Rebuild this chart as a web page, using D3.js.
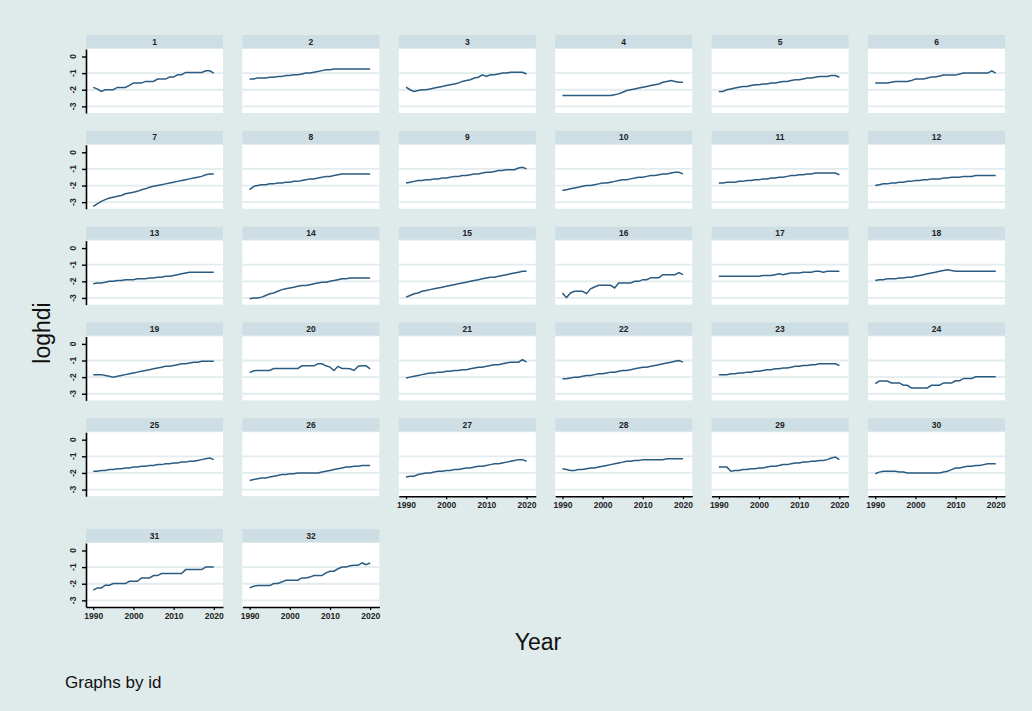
<!DOCTYPE html>
<html><head><meta charset="utf-8">
<script src="https://cdn.jsdelivr.net/npm/d3@7/dist/d3.min.js"></script>
<style>
  body { margin: 0; background: #ffffff; }
  svg { display: block; font-family: "Liberation Sans", Arial, Helvetica, sans-serif; }
</style>
</head>
<body>
<svg id="chart"></svg>
<script>
// years on the x axis
var years = [1990,1991,1992,1993,1994,1995,1996,1997,1998,1999,2000,2001,2002,2003,2004,2005,
             2006,2007,2008,2009,2010,2011,2012,2013,2014,2015,2016,2017,2018,2019,2020];
var xTicks = [1990, 2000, 2010, 2020];
var yTicks = [0, -1, -2, -3];
var yGrid = [-1, -2, -3];

// loghdi for each id
var id1  = [-1.86,-1.95,-2.1,-2.0,-2.0,-2.0,-1.86,-1.86,-1.86,-1.74,-1.6,-1.6,-1.6,-1.5,-1.5,-1.5,-1.36,-1.36,-1.36,-1.24,-1.24,-1.1,-1.1,-0.96,-0.96,-0.96,-0.96,-0.96,-0.86,-0.86,-1.0];
var id2  = [-1.35,-1.35,-1.3,-1.3,-1.3,-1.25,-1.25,-1.2,-1.2,-1.15,-1.15,-1.1,-1.1,-1.05,-1.0,-1.0,-0.95,-0.9,-0.85,-0.8,-0.8,-0.75,-0.75,-0.75,-0.75,-0.75,-0.75,-0.75,-0.75,-0.75,-0.75];
var id3  = [-1.85,-2.0,-2.1,-2.05,-2.0,-2.0,-1.95,-1.9,-1.85,-1.8,-1.75,-1.7,-1.65,-1.6,-1.5,-1.45,-1.4,-1.3,-1.25,-1.1,-1.2,-1.1,-1.1,-1.05,-1.0,-1.0,-0.95,-0.95,-0.95,-0.95,-1.05];
var id4  = [-2.35,-2.35,-2.35,-2.35,-2.35,-2.35,-2.35,-2.35,-2.35,-2.35,-2.35,-2.35,-2.35,-2.3,-2.25,-2.15,-2.05,-2.0,-1.95,-1.9,-1.85,-1.8,-1.75,-1.7,-1.65,-1.55,-1.5,-1.45,-1.5,-1.55,-1.55];
var id5  = [-2.1,-2.1,-2.0,-1.95,-1.9,-1.85,-1.8,-1.8,-1.75,-1.7,-1.7,-1.65,-1.65,-1.6,-1.6,-1.55,-1.5,-1.5,-1.45,-1.4,-1.4,-1.35,-1.3,-1.3,-1.25,-1.2,-1.2,-1.2,-1.15,-1.15,-1.25];
var id6  = [-1.6,-1.6,-1.6,-1.6,-1.55,-1.5,-1.5,-1.5,-1.5,-1.45,-1.36,-1.36,-1.36,-1.3,-1.24,-1.24,-1.18,-1.12,-1.12,-1.12,-1.12,-1.05,-1.0,-1.0,-1.0,-1.0,-1.0,-1.0,-1.0,-0.86,-1.0];
var id7  = [-3.25,-3.1,-2.95,-2.85,-2.75,-2.7,-2.65,-2.6,-2.5,-2.45,-2.4,-2.35,-2.25,-2.2,-2.1,-2.05,-2.0,-1.95,-1.9,-1.85,-1.8,-1.75,-1.7,-1.65,-1.6,-1.55,-1.5,-1.45,-1.35,-1.3,-1.3];
var id8  = [-2.25,-2.05,-2.0,-1.95,-1.95,-1.9,-1.9,-1.85,-1.85,-1.8,-1.8,-1.75,-1.75,-1.7,-1.65,-1.6,-1.6,-1.55,-1.5,-1.45,-1.45,-1.4,-1.35,-1.3,-1.3,-1.3,-1.3,-1.3,-1.3,-1.3,-1.3];
var id9  = [-1.85,-1.8,-1.75,-1.7,-1.7,-1.65,-1.65,-1.6,-1.6,-1.55,-1.55,-1.5,-1.45,-1.45,-1.4,-1.4,-1.35,-1.3,-1.3,-1.25,-1.2,-1.2,-1.15,-1.1,-1.1,-1.05,-1.05,-1.05,-0.95,-0.9,-1.0];
var id10 = [-2.3,-2.25,-2.2,-2.15,-2.1,-2.05,-2.0,-2.0,-1.95,-1.9,-1.85,-1.85,-1.8,-1.75,-1.7,-1.65,-1.65,-1.6,-1.55,-1.5,-1.5,-1.45,-1.4,-1.4,-1.35,-1.3,-1.3,-1.25,-1.2,-1.2,-1.3];
var id11 = [-1.85,-1.85,-1.8,-1.8,-1.8,-1.75,-1.75,-1.7,-1.7,-1.65,-1.65,-1.6,-1.6,-1.55,-1.55,-1.5,-1.5,-1.45,-1.4,-1.4,-1.35,-1.35,-1.3,-1.3,-1.25,-1.25,-1.25,-1.25,-1.25,-1.25,-1.35];
var id12 = [-2.0,-1.95,-1.9,-1.9,-1.85,-1.85,-1.8,-1.8,-1.75,-1.75,-1.7,-1.7,-1.65,-1.65,-1.6,-1.6,-1.6,-1.55,-1.55,-1.5,-1.5,-1.5,-1.45,-1.45,-1.45,-1.4,-1.4,-1.4,-1.4,-1.4,-1.4];
var id13 = [-2.15,-2.1,-2.1,-2.05,-2.0,-2.0,-1.95,-1.95,-1.9,-1.9,-1.9,-1.85,-1.85,-1.85,-1.8,-1.8,-1.75,-1.75,-1.7,-1.7,-1.65,-1.6,-1.55,-1.5,-1.45,-1.45,-1.45,-1.45,-1.45,-1.45,-1.45];
var id14 = [-3.05,-3.0,-3.0,-2.95,-2.85,-2.75,-2.7,-2.6,-2.5,-2.45,-2.4,-2.35,-2.3,-2.25,-2.25,-2.2,-2.15,-2.1,-2.05,-2.05,-2.0,-1.95,-1.9,-1.85,-1.85,-1.8,-1.8,-1.8,-1.8,-1.8,-1.8];
var id15 = [-2.95,-2.85,-2.75,-2.7,-2.6,-2.55,-2.5,-2.45,-2.4,-2.35,-2.3,-2.25,-2.2,-2.15,-2.1,-2.05,-2.0,-1.95,-1.9,-1.85,-1.8,-1.75,-1.75,-1.7,-1.65,-1.6,-1.55,-1.5,-1.45,-1.4,-1.4];
var id16 = [-2.7,-2.98,-2.7,-2.6,-2.6,-2.6,-2.74,-2.45,-2.34,-2.24,-2.24,-2.24,-2.24,-2.4,-2.1,-2.1,-2.1,-2.1,-2.0,-2.0,-1.9,-1.9,-1.78,-1.78,-1.78,-1.6,-1.6,-1.6,-1.6,-1.48,-1.6];
var id17 = [-1.7,-1.7,-1.7,-1.7,-1.7,-1.7,-1.7,-1.7,-1.7,-1.7,-1.7,-1.65,-1.65,-1.65,-1.6,-1.55,-1.6,-1.55,-1.5,-1.5,-1.5,-1.45,-1.45,-1.45,-1.4,-1.4,-1.45,-1.4,-1.4,-1.4,-1.4];
var id18 = [-1.95,-1.9,-1.9,-1.85,-1.85,-1.85,-1.8,-1.8,-1.75,-1.75,-1.7,-1.65,-1.6,-1.55,-1.5,-1.45,-1.4,-1.35,-1.3,-1.35,-1.4,-1.4,-1.4,-1.4,-1.4,-1.4,-1.4,-1.4,-1.4,-1.4,-1.4];
var id19 = [-1.85,-1.85,-1.85,-1.9,-1.95,-2.0,-1.95,-1.9,-1.85,-1.8,-1.75,-1.7,-1.65,-1.6,-1.55,-1.5,-1.45,-1.4,-1.35,-1.35,-1.3,-1.25,-1.2,-1.2,-1.15,-1.1,-1.1,-1.05,-1.05,-1.05,-1.05];
var id20 = [-1.73,-1.62,-1.6,-1.6,-1.6,-1.6,-1.48,-1.48,-1.48,-1.48,-1.48,-1.48,-1.48,-1.32,-1.32,-1.32,-1.32,-1.2,-1.2,-1.32,-1.4,-1.6,-1.35,-1.48,-1.48,-1.5,-1.6,-1.35,-1.32,-1.32,-1.5];
var id21 = [-2.05,-2.0,-1.95,-1.9,-1.85,-1.8,-1.75,-1.75,-1.7,-1.7,-1.65,-1.65,-1.6,-1.6,-1.55,-1.55,-1.5,-1.45,-1.4,-1.4,-1.35,-1.3,-1.25,-1.25,-1.2,-1.15,-1.1,-1.1,-1.1,-0.95,-1.1];
var id22 = [-2.1,-2.1,-2.05,-2.0,-2.0,-1.95,-1.9,-1.9,-1.85,-1.8,-1.8,-1.75,-1.7,-1.7,-1.65,-1.6,-1.6,-1.55,-1.5,-1.45,-1.4,-1.4,-1.35,-1.3,-1.25,-1.2,-1.15,-1.1,-1.05,-1.0,-1.1];
var id23 = [-1.85,-1.85,-1.85,-1.8,-1.8,-1.75,-1.75,-1.7,-1.7,-1.65,-1.65,-1.6,-1.55,-1.55,-1.5,-1.5,-1.45,-1.45,-1.4,-1.35,-1.35,-1.3,-1.3,-1.25,-1.25,-1.2,-1.2,-1.2,-1.2,-1.2,-1.3];
var id24 = [-2.39,-2.24,-2.24,-2.24,-2.35,-2.35,-2.35,-2.49,-2.49,-2.65,-2.65,-2.65,-2.65,-2.65,-2.49,-2.49,-2.49,-2.35,-2.35,-2.35,-2.22,-2.22,-2.08,-2.08,-2.08,-1.98,-1.98,-1.98,-1.98,-1.98,-1.98];
var id25 = [-1.9,-1.9,-1.85,-1.85,-1.8,-1.8,-1.75,-1.75,-1.7,-1.7,-1.65,-1.65,-1.6,-1.6,-1.55,-1.55,-1.5,-1.5,-1.45,-1.45,-1.4,-1.4,-1.35,-1.35,-1.3,-1.3,-1.25,-1.2,-1.15,-1.1,-1.2];
var id26 = [-2.45,-2.4,-2.35,-2.3,-2.3,-2.25,-2.2,-2.15,-2.1,-2.1,-2.05,-2.05,-2.0,-2.0,-2.0,-2.0,-2.0,-2.0,-1.95,-1.9,-1.85,-1.8,-1.75,-1.7,-1.65,-1.65,-1.6,-1.6,-1.55,-1.55,-1.55];
var id27 = [-2.25,-2.2,-2.2,-2.1,-2.05,-2.0,-2.0,-1.95,-1.9,-1.9,-1.85,-1.85,-1.8,-1.8,-1.75,-1.7,-1.7,-1.65,-1.6,-1.6,-1.55,-1.5,-1.45,-1.45,-1.4,-1.35,-1.3,-1.25,-1.2,-1.2,-1.3];
var id28 = [-1.75,-1.8,-1.85,-1.85,-1.8,-1.8,-1.75,-1.7,-1.7,-1.65,-1.6,-1.55,-1.5,-1.45,-1.4,-1.35,-1.3,-1.3,-1.25,-1.25,-1.2,-1.2,-1.2,-1.2,-1.2,-1.2,-1.15,-1.15,-1.15,-1.15,-1.15];
var id29 = [-1.65,-1.65,-1.65,-1.9,-1.85,-1.85,-1.8,-1.8,-1.75,-1.75,-1.7,-1.7,-1.65,-1.6,-1.6,-1.55,-1.5,-1.5,-1.45,-1.4,-1.4,-1.35,-1.35,-1.3,-1.3,-1.25,-1.25,-1.2,-1.1,-1.05,-1.2];
var id30 = [-2.05,-1.95,-1.9,-1.9,-1.9,-1.9,-1.95,-1.95,-2.0,-2.0,-2.0,-2.0,-2.0,-2.0,-2.0,-2.0,-2.0,-1.95,-1.9,-1.8,-1.7,-1.7,-1.65,-1.6,-1.6,-1.55,-1.55,-1.5,-1.45,-1.45,-1.45];
var id31 = [-2.39,-2.25,-2.25,-2.09,-2.09,-1.99,-1.99,-1.99,-1.99,-1.85,-1.85,-1.85,-1.65,-1.65,-1.65,-1.51,-1.51,-1.39,-1.39,-1.39,-1.39,-1.39,-1.39,-1.15,-1.15,-1.15,-1.15,-1.15,-1.0,-1.0,-1.0];
var id32 = [-2.25,-2.15,-2.11,-2.11,-2.11,-2.11,-1.99,-1.99,-1.9,-1.79,-1.79,-1.79,-1.79,-1.65,-1.65,-1.6,-1.51,-1.51,-1.51,-1.35,-1.25,-1.25,-1.1,-1.0,-1.0,-0.92,-0.89,-0.89,-0.75,-0.85,-0.75];

var series = [id1,id2,id3,id4,id5,id6,id7,id8,id9,id10,id11,id12,id13,id14,id15,id16,
              id17,id18,id19,id20,id21,id22,id23,id24,id25,id26,id27,id28,id29,id30,id31,id32];

var width = 1032, height = 711;
var nCols = 6;
var panelW = 137, panelH = 64, stripH = 13;
var colStep = 156.4, rowStep = 95.8;
var left0 = 86, top0 = 49;
var axisGap = 15;   // extra room under row 5 for its x axes

var svg = d3.select("#chart").attr("width", width).attr("height", height);

svg.append("rect")
  .attr("width", width).attr("height", height)
  .attr("fill", "#dfeaeb");

var x = d3.scaleLinear().domain([1988.2, 2022.3]).range([0, panelW]);
var y = d3.scaleLinear().domain([-3.4, 0.45]).range([panelH, 0]);

var line = d3.line()
  .x(function (d, i) { return x(years[i]); })
  .y(function (d) { return y(d); });

var nRows = Math.ceil(series.length / nCols);

series.forEach(function (vals, i) {
  var r = Math.floor(i / nCols), c = i % nCols;
  var gx = left0 + c * colStep;
  var gy = top0 + r * rowStep + (r === nRows - 1 ? axisGap : 0);
  var g = svg.append("g").attr("transform", "translate(" + gx + "," + gy + ")");

  // strip with the id
  g.append("rect")
    .attr("x", 0).attr("y", -stripH - 1)
    .attr("width", panelW).attr("height", stripH)
    .attr("fill", "#cddee5");
  g.append("text")
    .attr("x", panelW / 2).attr("y", -4.5)
    .attr("text-anchor", "middle")
    .attr("font-size", 8.5)
    .attr("font-weight", "bold")
    .attr("fill", "#222")
    .text(i + 1);

  // plot region
  g.append("rect")
    .attr("width", panelW).attr("height", panelH)
    .attr("fill", "#ffffff");

  g.selectAll("line.grid")
    .data(yGrid)
    .enter().append("line")
    .attr("class", "grid")
    .attr("x1", 0).attr("x2", panelW)
    .attr("y1", function (d) { return y(d); })
    .attr("y2", function (d) { return y(d); })
    .attr("stroke", "#e2ebee")
    .attr("stroke-width", 1.8);

  g.append("path")
    .datum(vals)
    .attr("d", line)
    .attr("fill", "none")
    .attr("stroke", "#2b5b80")
    .attr("stroke-width", 1.5);

  // y axis on the first column only
  if (c === 0) {
    var yAxis = g.append("g")
      .call(d3.axisLeft(y).tickValues(yTicks).tickSize(4).tickSizeOuter(0).tickFormat(""));
    yAxis.select(".domain").attr("stroke", "#000").attr("stroke-width", 1.6);
    yAxis.selectAll(".tick line").attr("stroke", "#000").attr("stroke-width", 1.4);
    g.selectAll("text.ylab")
      .data(yTicks)
      .enter().append("text")
      .attr("class", "ylab")
      .attr("transform", function (d) { return "translate(-10.5," + y(d) + ") rotate(-90)"; })
      .attr("text-anchor", "middle")
      .attr("font-size", 8.5)
      .attr("font-weight", "bold")
      .attr("fill", "#222")
      .text(function (d) { return d; });
  }

  // x axis where no panel sits below
  if (i + nCols >= series.length) {
    var xAxis = g.append("g")
      .attr("transform", "translate(0," + panelH + ")")
      .call(d3.axisBottom(x).tickValues(xTicks).tickSize(3).tickSizeOuter(0).tickFormat(d3.format("d")));
    xAxis.select(".domain").attr("stroke", "#000").attr("stroke-width", 1.6);
    xAxis.selectAll(".tick line").attr("stroke", "#000").attr("stroke-width", 1.2);
    xAxis.selectAll("text")
      .attr("font-size", 8.5)
      .attr("font-weight", "bold")
      .attr("font-family", "Liberation Sans, Arial, sans-serif")
      .attr("fill", "#222");
  }
});

// axis titles and note
svg.append("text")
  .attr("transform", "translate(50,333) rotate(-90)")
  .attr("text-anchor", "middle")
  .attr("font-size", 23)
  .attr("fill", "#111")
  .text("loghdi");

svg.append("text")
  .attr("x", 538).attr("y", 650)
  .attr("text-anchor", "middle")
  .attr("font-size", 23)
  .attr("fill", "#111")
  .text("Year");

svg.append("text")
  .attr("x", 65).attr("y", 688)
  .attr("font-size", 17)
  .attr("fill", "#111")
  .text("Graphs by id");
</script>
</body></html>
